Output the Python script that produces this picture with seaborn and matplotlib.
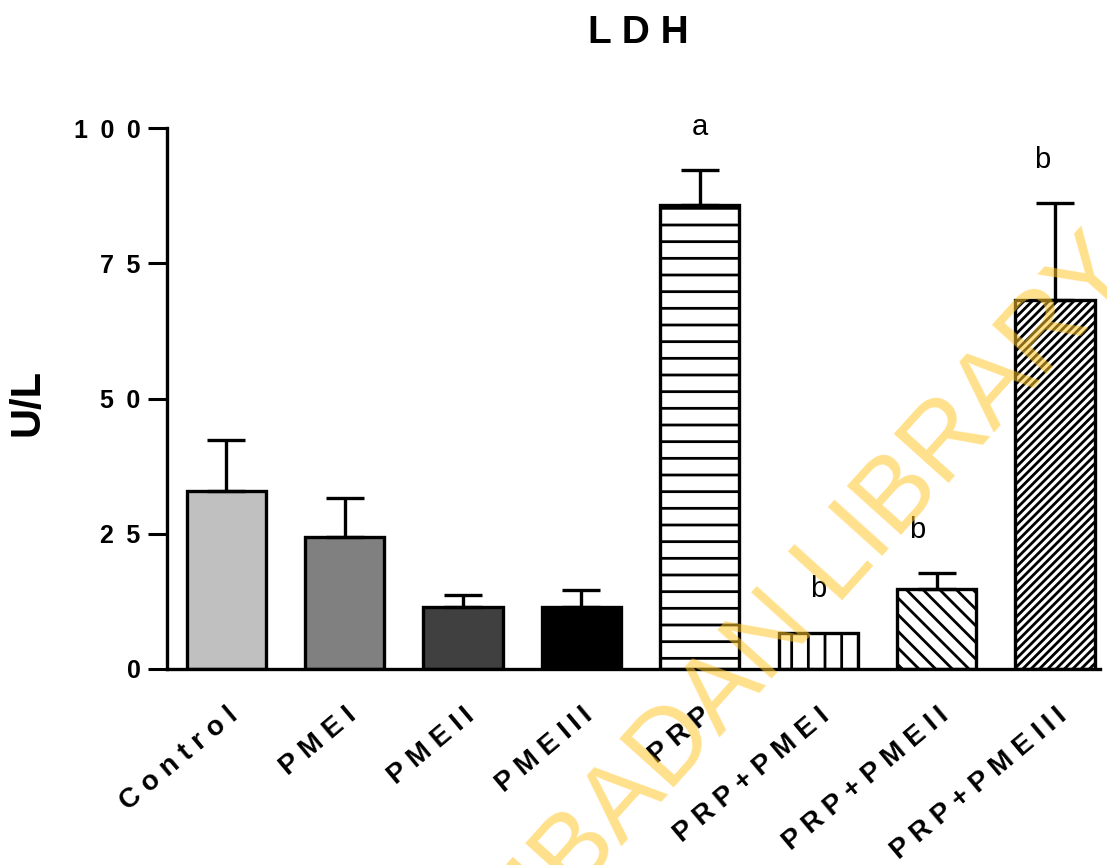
import numpy as np
import pandas as pd
import matplotlib
matplotlib.use("Agg")
import matplotlib.pyplot as plt
import matplotlib.transforms as mtransforms
import seaborn as sns

categories = ["Control", "PME I", "PME II", "PME III", "PRP", "PRP+PMEI", "PRP+PMEII", "PRP+PMEIII"]
tick_labels = ["C o n t r o l", "P M E I", "P M E I\u2009I", "P M E I\u2009I\u2009I", "P R P",
               "P R P + P M E I", "P R P + P M E I\u2009I", "P R P + P M E I\u2009I\u2009I"]
y_ticks = [0, 25, 50, 75, 100]
y_tick_labels = ["0", "2\u20025", "5\u20020", "7\u20025", "1\u20020\u20020"]
means = [32.9, 24.4, 11.5, 11.5, 85.8, 6.7, 14.8, 68.2]
errors = [9.4, 7.2, 2.1, 3.1, 6.4, 0.0, 2.9, 17.9]
letters = ["", "", "", "", "a", "b", "b", "b"]
face_colors = ["#C0C0C0", "#808080", "#404040", "#000000", "white", "white", "white", "white"]
hatches = [None, None, None, None, "-", "|", "\\\\", "////"]
letter_dx = [0, 0, 0, 0, 0, 0, -0.16, -0.11]

sns.set_theme(style="ticks")
plt.rcParams["font.family"] = ["Liberation Sans", "DejaVu Sans"]
plt.rcParams["hatch.linewidth"] = 2.0
plt.rcParams["hatch.color"] = "black"
for k in ["text.color", "axes.labelcolor", "xtick.color", "ytick.color", "axes.edgecolor"]:
    plt.rcParams[k] = "black"

df = pd.DataFrame({"group": categories, "value": means})

fig = plt.figure(figsize=(11.07, 8.65), dpi=100)
ax = fig.add_axes([167 / 1107, 1 - 669 / 865, (1100 - 167) / 1107, (669 - 128) / 865])

sns.barplot(data=df, x="group", y="value", order=categories, palette=face_colors,
            hue="group", legend=False, width=0.67, edgecolor="black", linewidth=2.4,
            saturation=1, ax=ax, errorbar=None)

for patch, h in zip(ax.patches, hatches):
    if h:
        patch.set_hatch(h)

x = np.arange(len(categories))
err = np.array(errors)
mask = err > 0
ax.errorbar(x[mask], np.array(means)[mask], yerr=[np.zeros(mask.sum()), err[mask]],
            fmt="none", ecolor="black", elinewidth=2.4, capsize=14, capthick=2.4, zorder=1)

for xi, m, e, t, dx in zip(x, means, errors, letters, letter_dx):
    if t:
        ax.text(xi + dx, m + e + 8, t, ha="center", va="center", fontsize=21, clip_on=False)

ax.set_xlim(-0.5, 7.38)
ax.set_ylim(0, 100)
ax.set_yticks(y_ticks)
ax.set_yticklabels(y_tick_labels, fontsize=18, fontweight="bold")
ax.tick_params(axis="y", length=14, width=2.2, pad=5, color="black")
ax.tick_params(axis="x", length=0, pad=4)
ax.set_xticks(x)
ax.set_xticklabels(tick_labels, rotation=40, ha="right", rotation_mode="anchor",
                   fontsize=20, fontweight="bold")
offset = mtransforms.ScaledTranslation(0.0, -0.28, fig.dpi_scale_trans)
for lab in ax.get_xticklabels():
    lab.set_transform(lab.get_transform() + offset)

for side in ["top", "right"]:
    ax.spines[side].set_visible(False)
for side in ["left", "bottom"]:
    ax.spines[side].set_linewidth(2.4)
    ax.spines[side].set_color("black")

ax.set_xlabel("")
ax.set_ylabel("")
fig.text(28 / 1107, 1 - 402 / 865, "U/L", rotation=90, ha="center", va="center",
         fontsize=30, fontweight="bold")
fig.text(638 / 1107, 1 - 33 / 865, "L D H", ha="center", va="center", fontsize=28, fontweight="bold")

fig.text(1138 / 1107, 1 - 272 / 865, "UNIVERSITY OF IBADAN LIBRARY", ha="right", va="baseline",
         rotation=48, rotation_mode="anchor", fontsize=76, color="#FFC72C", alpha=0.55, zorder=10)

fig.savefig("out.png", dpi=100)
